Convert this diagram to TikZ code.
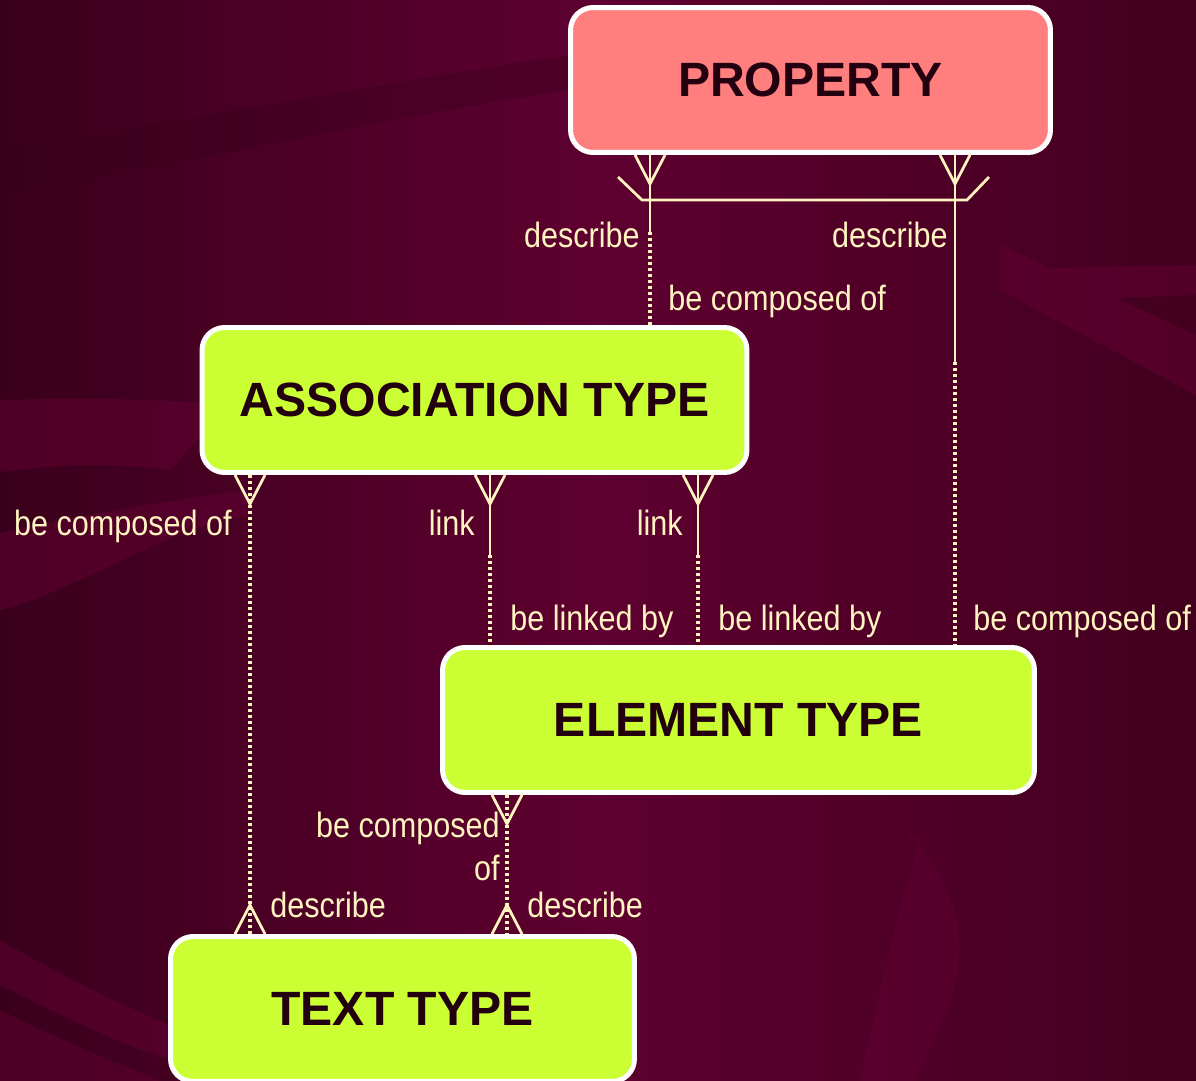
\documentclass[tikz,border=0pt]{standalone}
\usepackage{fontspec}
\setmainfont{Liberation Sans}
\newfontfamily\narrowsf{Liberation Sans}[FakeStretch=0.87]
\usepackage{tikz}
\usetikzlibrary{calc,positioning}
\definecolor{wine}{HTML}{5E0030}
\definecolor{winedark}{HTML}{3A001B}
\definecolor{wineright}{HTML}{42001E}
\definecolor{ribbon}{HTML}{680035}
\definecolor{salmon}{HTML}{FF7F7F}
\definecolor{lime}{HTML}{CCFF33}
\definecolor{cream}{HTML}{FFF3C0}
\definecolor{ink}{HTML}{22000F}
\tikzset{%
    entity/.style={%
        draw=white, line width=0.1cm, rounded corners=0.45cm,
        fill=lime, text=ink, minimum height=2.9cm,
        font=\fontsize{27.4}{31}\selectfont\bfseries
    },
    rel/.style={cream, line width=0.055cm},
    opt/.style={rel, line width=0.065cm, dash pattern=on 0.06cm off 0.06cm},
    role/.style={text=cream, inner sep=0pt, font=\narrowsf\fontsize{20}{24}\selectfont},
    pics/crow/.style={code={\draw[rel] (-15,0) -- (0,#1) -- (15,0);}}
}

\begin{document}
\begin{tikzpicture}[x=0.02cm, y=-0.02cm]
  % backdrop
  \useasboundingbox (0,0) rectangle (1196,1081);
  \shade[left color=winedark, right color=wineright, middle color=wine] (0,0) rectangle (1196,1081);
  \fill[winedark, opacity=.4] (0,150) .. controls (250,110) and (430,75) .. (570,55) -- (570,90) .. controls (430,110) and (250,150) .. (0,195) -- cycle;
  \fill[ribbon, opacity=.45] (0,400) .. controls (80,398) and (150,398) .. (230,405) -- (170,470) .. controls (110,462) and (50,465) .. (0,472) -- cycle;
  \fill[ribbon, opacity=.45] (0,533) .. controls (80,515) and (170,500) .. (250,490) -- (250,515) .. controls (170,525) and (80,590) .. (0,610) -- cycle;
  \fill[ribbon, opacity=.45] (0,940) .. controls (60,975) and (120,1005) .. (170,1025) -- (170,1060) .. controls (110,1040) and (50,1010) .. (0,985) -- cycle;
  \fill[ribbon, opacity=.4] (0,1010) .. controls (60,1040) and (110,1060) .. (160,1081) -- (0,1081) -- cycle;
  \fill[ribbon, opacity=.45] (1000,245) -- (1050,268) -- (1196,265) -- (1196,295) -- (1115,298) -- (1196,335) -- (1196,395) -- (1000,290) -- cycle;
  \fill[ribbon, opacity=.35] (870,800) .. controls (950,860) and (975,930) .. (950,1000) .. controls (935,1040) and (925,1060) .. (915,1081) -- (860,1081) .. controls (880,990) and (900,900) .. (920,840) -- cycle;

  % entities
  \node[entity, fill=salmon, minimum width=9.6cm] (prop) at (810.5,80) {PROPERTY};
  \node[entity, minimum width=10.9cm] (assoc) at (474.5,400) {ASSOCIATION TYPE};
  \node[entity, minimum width=11.84cm] (elem) at (738.5,720) {ELEMENT TYPE};
  \node[entity, minimum width=9.28cm] (texttype) at (402.5,1009) {TEXT TYPE};

  % relationships
  \coordinate (s1) at (650,232);
  \coordinate (s2) at (955,362);
  \coordinate (s4) at (490,555);
  \coordinate (s5) at (698,555);
  \draw[rel] (650,0 |- prop.south) -- (s1);
  \draw[opt] (s1) -- (650,0 |- assoc.north);
  \draw[rel] (955,0 |- prop.south) -- (s2);
  \draw[opt] (s2) -- (955,0 |- elem.north);
  \draw[rel] (618,177) -- (642,200) -- (967,200) -- (989,177);
  \draw[opt] (250,0 |- assoc.south) -- (250,0 |- texttype.north);
  \draw[rel] (490,0 |- assoc.south) -- (s4);
  \draw[opt] (s4) -- (490,0 |- elem.north);
  \draw[rel] (698,0 |- assoc.south) -- (s5);
  \draw[opt] (s5) -- (698,0 |- elem.north);
  \draw[opt] (507,0 |- elem.south) -- (507,0 |- texttype.north);
  \pic at (650,0 |- prop.south) {crow=29};
  \pic at (955,0 |- prop.south) {crow=29};
  \pic at (250,0 |- assoc.south) {crow=29};
  \pic at (490,0 |- assoc.south) {crow=29};
  \pic at (698,0 |- assoc.south) {crow=29};
  \pic at (507,0 |- elem.south) {crow=29};
  \pic at (250,0 |- texttype.north) {crow=-29};
  \pic at (507,0 |- texttype.north) {crow=-29};

  % role names
  \node[role, anchor=base east] (r1) at (640,247) {describe};
  \node[role, anchor=base east] (r2) at (948,247) {describe};
  \node[role, anchor=base west] (r3) at (668,310) {be composed of};
  \node[role, anchor=base east] (r4) at (232,535) {be composed of};
  \node[role, anchor=base east] (r5) at (475,535) {link};
  \node[role, anchor=base east] (r6) at (683,535) {link};
  \node[role, anchor=base west] (r7) at (510,630) {be linked by};
  \node[role, anchor=base west] (r8) at (718,630) {be linked by};
  \node[role, anchor=base west] (r9) at (973,630) {be composed of};
  \node[role, anchor=base east, align=right] (r10) at (500,880) {be composed\\of};
  \node[role, anchor=base west] (r11) at (270,917) {describe};
  \node[role, anchor=base west] (r12) at (527,917) {describe};
\end{tikzpicture}
\end{document}
